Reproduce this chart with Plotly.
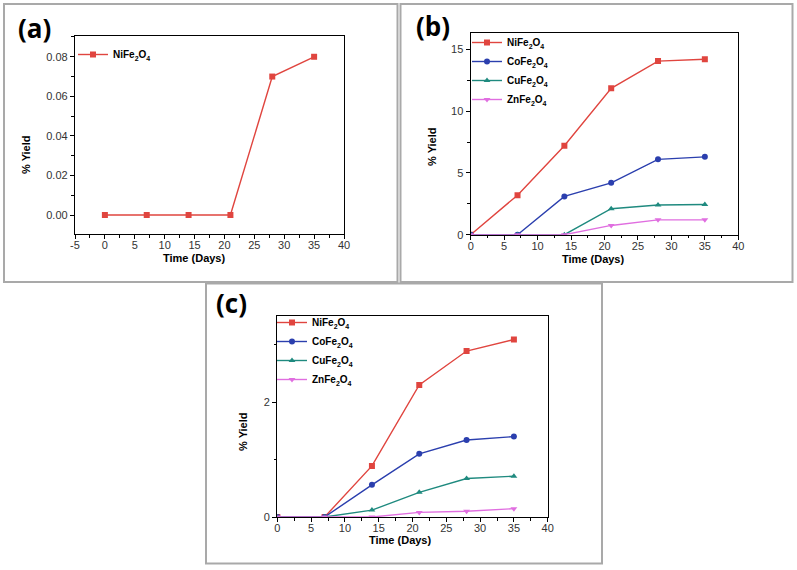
import plotly.graph_objects as go

W, H = 797, 570

# ---- data ----
days = [0, 7, 14, 21, 28, 35]

a_ni = [0, 0, 0, 0, 0.07, 0.08]

b_ni = [0, 3.2, 7.2, 11.85, 14.05, 14.2]
b_co = [0, 0, 3.1, 4.2, 6.1, 6.3]
b_cu = [0, 0, 0, 2.1, 2.4, 2.45]
b_zn = [0, 0, 0, 0.75, 1.2, 1.2]

c_ni = [0, 0, 0.89, 2.30, 2.89, 3.09]
c_co = [0, 0, 0.56, 1.10, 1.34, 1.40]
c_cu = [0, 0, 0.12, 0.43, 0.67, 0.71]
c_zn = [0, 0, 0, 0.08, 0.10, 0.145]

names = ["NiFe<sub>2</sub>O<sub>4</sub>", "CoFe<sub>2</sub>O<sub>4</sub>",
         "CuFe<sub>2</sub>O<sub>4</sub>", "ZnFe<sub>2</sub>O<sub>4</sub>"]

xa_ticks = [-5, 0, 5, 10, 15, 20, 25, 30, 35, 40]
xa_labels = ["-5", "0", "5", "10", "15", "20", "25", "30", "35", "40"]

# ---- styles ----
colors = ["#e0453f", "#2b3fae", "#1f8a7f", "#e06ee0"]
symbols = ["square", "circle", "triangle-up", "triangle-down"]
FONT = "Liberation Sans"


def px_x(x):
    return x / W


def px_y(y):
    return 1 - y / H


fig = go.Figure()


def add_series(xs, ys, i, xa, ya, leg):
    fig.add_trace(go.Scatter(
        x=xs, y=ys, name=names[i], mode="lines+markers",
        line=dict(color=colors[i], width=1.4),
        marker=dict(color=colors[i], symbol=symbols[i], size=6),
        xaxis=xa, yaxis=ya, legend=leg))


add_series(days, a_ni, 0, "x", "y", "legend")
for i, ys in enumerate([b_ni, b_co, b_cu, b_zn]):
    add_series(days, ys, i, "x2", "y2", "legend2")
for i, ys in enumerate([c_ni, c_co, c_cu, c_zn]):
    add_series(days, ys, i, "x3", "y3", "legend3")

axis_common = dict(showline=True, linecolor="black", linewidth=1.3, mirror=True,
                   ticks="outside", ticklen=4, tickwidth=1, tickcolor="black",
                   showgrid=False, zeroline=False,
                   tickfont=dict(family=FONT, size=11, color="#333"))


def xax(domain, rng, anchor, **kw):
    d = dict(axis_common)
    d.update(domain=domain, range=rng, anchor=anchor, ticklabelstandoff=-3,
             minor=dict(ticks="outside", ticklen=2.5, dtick=2.5, tickcolor="black"))
    d.update(kw)
    return d


def yax(domain, rng, anchor, dtick, mdtick, **kw):
    d = dict(axis_common)
    d.update(domain=domain, range=rng, anchor=anchor, dtick=dtick,
             minor=dict(ticks="outside", ticklen=2.5, dtick=mdtick, tickcolor="black"))
    d.update(kw)
    return d


layout = dict(
    width=W, height=H, margin=dict(l=0, r=0, t=0, b=0, autoexpand=False),
    paper_bgcolor="white", plot_bgcolor="white",
    xaxis=xax([px_x(75), px_x(344)], [-5, 40], "y",
              tickvals=xa_ticks, ticktext=xa_labels),
    yaxis=yax([px_y(234), px_y(36)], [-0.0096, 0.0905], "x", 0.02, 0.01,
              tickformat=".2f", tick0=0),
    xaxis2=xax([px_x(470.7), px_x(738.3)], [0, 40], "y2", dtick=5, tick0=0),
    yaxis2=yax([px_y(234.7), px_y(33.3)], [0, 16.3], "x2", 5, 2.5, tick0=0),
    xaxis3=xax([px_x(277.3), px_x(547.7)], [0, 40], "y3", dtick=5, tick0=0),
    yaxis3=yax([px_y(517), px_y(316)], [0, 3.5], "x3", 2, 1, tick0=0),
    showlegend=True,
)

leg_common = dict(bgcolor="rgba(0,0,0,0)", borderwidth=0,
                  font=dict(family=FONT, size=10, color="black", weight="bold"),
                  xanchor="left", yanchor="top", itemwidth=30, tracegroupgap=0)
layout["legend"] = dict(leg_common, x=px_x(73), y=px_y(40))
layout["legend2"] = dict(leg_common, x=px_x(467), y=px_y(28))
layout["legend3"] = dict(leg_common, x=px_x(272), y=px_y(308))

fig.update_layout(**layout)

# panel borders
for (x0, y0, x1, y1) in [(4, 4, 397.5, 282), (400.5, 4, 792.5, 282), (206, 283.5, 602, 563.5)]:
    fig.add_shape(type="rect", xref="paper", yref="paper",
                  x0=px_x(x0), x1=px_x(x1), y0=px_y(y1), y1=px_y(y0),
                  line=dict(color="#a9a9a9", width=2), layer="below")

# panel labels
for txt, x, y in [("(a)", 34, 28), ("(b)", 433, 26), ("(c)", 231, 303)]:
    fig.add_annotation(text=txt, x=px_x(x), y=px_y(y), xref="paper", yref="paper",
                       showarrow=False, xanchor="center", yanchor="middle",
                       font=dict(family="Open Sans", size=26, color="black", weight="bold"))

# axis titles
for x, y in [(194, 257.5), (593, 258.5), (400, 539.5)]:
    fig.add_annotation(text="Time (Days)", x=px_x(x), y=px_y(y), xref="paper", yref="paper",
                       showarrow=False, xanchor="center", yanchor="middle",
                       font=dict(family=FONT, size=11, color="black", weight="bold"))
for x, y in [(26, 155), (432, 147), (243, 432)]:
    fig.add_annotation(text="% Yield", x=px_x(x), y=px_y(y), xref="paper", yref="paper",
                       showarrow=False, textangle=-90, xanchor="center", yanchor="middle",
                       font=dict(family=FONT, size=11, color="black", weight="bold"))

fig.write_html("out.html", config={"displayModeBar": False},
               post_script="document.body.style.margin='0';")
